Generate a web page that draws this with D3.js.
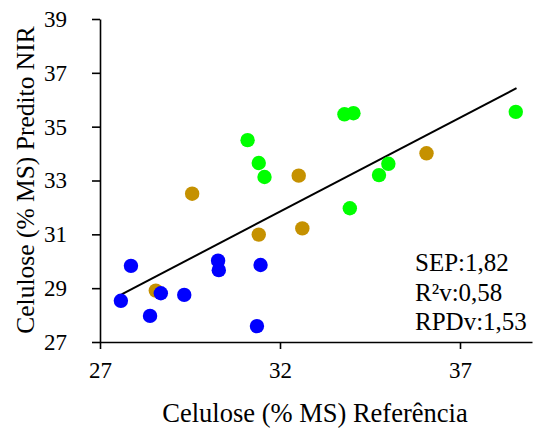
<!DOCTYPE html>
<html>
<head>
<meta charset="utf-8">
<script src="https://cdn.jsdelivr.net/npm/d3@7"></script>
<style>
  body { margin: 0; background: #fff; }
  svg text { font-family: "Liberation Serif", "Times New Roman", serif; fill: #000; }
  .axis path, .axis line { stroke: #000; stroke-width: 1.6px; }
</style>
</head>
<body>
<svg width="540" height="429"></svg>
<script>
// reference vs predicted values, one array per group
const blueRef  = [27.58, 27.86, 28.39, 28.69, 29.34, 30.28, 30.30, 31.46, 31.36];
const bluePred = [28.53, 29.83, 27.97, 28.81, 28.75, 30.02, 29.67, 29.86, 27.59];

const goldRef  = [28.55, 29.56, 31.41, 32.52, 32.62, 36.07];
const goldPred = [28.91, 32.51, 30.99, 33.18, 31.22, 34.01];

const greenRef  = [31.10, 31.41, 31.57, 33.79, 34.04, 35.01, 34.75, 38.55, 33.94];
const greenPred = [34.50, 33.65, 33.13, 35.46, 35.50, 33.62, 33.20, 35.55, 31.97];

const trendRef  = [27.60, 38.57];
const trendPred = [28.77, 36.43];

const xTicks = [27, 32, 37];
const yTicks = [27, 29, 31, 33, 35, 37, 39];
const stats = ["SEP:1,82", "R²v:0,58", "RPDv:1,53"];

const serif = '"Liberation Serif", "Times New Roman", serif';

const svg = d3.select("svg"),
      margin = {top: 19, right: 8, bottom: 87, left: 100},
      width = +svg.attr("width") - margin.left - margin.right,
      height = +svg.attr("height") - margin.top - margin.bottom;

const g = svg.append("g").attr("transform", `translate(${margin.left},${margin.top})`);

const x = d3.scaleLinear().domain([27, 39]).range([0, width]);
const y = d3.scaleLinear().domain([27, 39]).range([height, 0]);

g.append("g")
  .attr("class", "axis")
  .attr("transform", `translate(0,${height})`)
  .call(d3.axisBottom(x).tickValues(xTicks).tickSize(7).tickSizeOuter(0).tickPadding(13))
  .attr("font-family", serif)
  .attr("font-size", 23);

g.append("g")
  .attr("class", "axis")
  .call(d3.axisLeft(y).tickValues(yTicks).tickSize(8).tickSizeOuter(0).tickPadding(25))
  .attr("font-family", serif)
  .attr("font-size", 23);

// trend line
g.append("path")
  .datum(d3.zip(trendRef, trendPred))
  .attr("fill", "none")
  .attr("stroke", "#000")
  .attr("stroke-width", 2)
  .attr("d", d3.line().x(d => x(d[0])).y(d => y(d[1])));

const groups = [
  {ref: goldRef, pred: goldPred, color: "#c59100"},
  {ref: greenRef, pred: greenPred, color: "#00ff00"},
  {ref: blueRef, pred: bluePred, color: "#0000ff"}
];

groups.forEach(s => {
  g.append("g").selectAll("circle")
    .data(d3.zip(s.ref, s.pred))
    .join("circle")
    .attr("cx", d => x(d[0]))
    .attr("cy", d => y(d[1]))
    .attr("r", 7.2)
    .attr("fill", s.color);
});

g.append("g").selectAll("text")
  .data(stats)
  .join("text")
  .attr("x", 315)
  .attr("y", (d, i) => 252 + i * 29.5)
  .style("font-size", "25px")
  .text(d => d);

svg.append("text")
  .attr("x", 315).attr("y", 422)
  .attr("text-anchor", "middle")
  .style("font-size", "26.5px")
  .text("Celulose (% MS) Referência");

svg.append("text")
  .attr("x", -180).attr("y", 34)
  .attr("transform", "rotate(-90)")
  .attr("text-anchor", "middle")
  .style("font-size", "25.5px")
  .text("Celulose (% MS) Predito NIR");
</script>
</body>
</html>
